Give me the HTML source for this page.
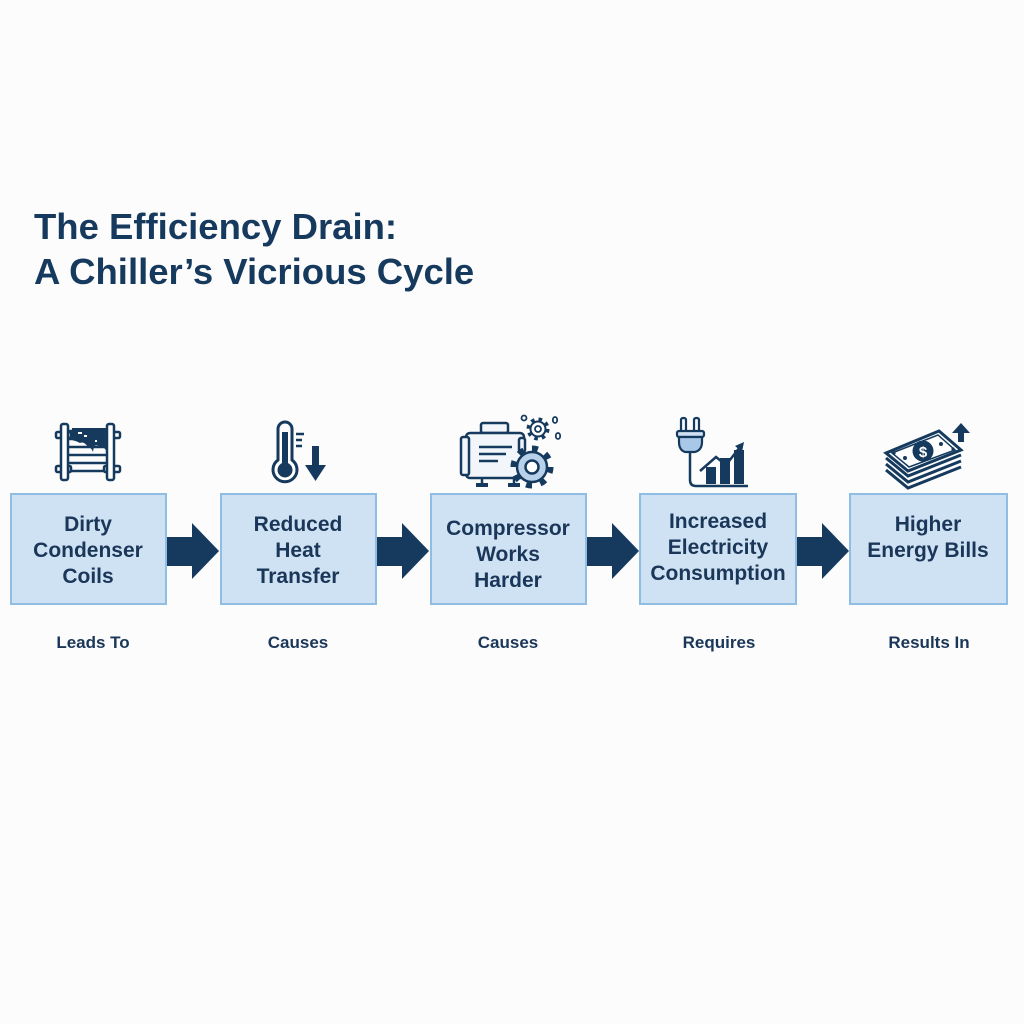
<!DOCTYPE html>
<html>
<head>
<meta charset="utf-8">
<style>
  html,body{margin:0;padding:0;}
  body{width:1024px;height:1024px;background:#fcfcfc;overflow:hidden;position:relative;font-family:"Liberation Sans",Arial,sans-serif;}
  svg{position:absolute;left:0;top:0;}
</style>
</head>
<body>
<svg width="1024" height="1024" viewBox="0 0 1024 1024" xmlns="http://www.w3.org/2000/svg">
  <rect width="1024" height="1024" fill="#fcfcfc"/>
  <!-- Title -->
  <g font-family="Liberation Sans, Arial, sans-serif" font-weight="bold" fill="#163a5e" font-size="36.5">
    <text x="34" y="239">The Efficiency Drain:</text>
    <text x="34" y="284">A Chiller’s Vicrious Cycle</text>
  </g>

  <!-- Boxes -->
  <g fill="#cfe2f3" stroke="#8fbde3" stroke-width="2">
    <rect x="11" y="494" width="155" height="110"/>
    <rect x="221" y="494" width="155" height="110"/>
    <rect x="431" y="494" width="155" height="110"/>
    <rect x="640" y="494" width="156" height="110"/>
    <rect x="850" y="494" width="157" height="110"/>
  </g>

  <!-- Arrows -->
  <g fill="#153a5e">
    <polygon points="167,537 192,537 192,523 219,551 192,579 192,566 167,566"/>
    <polygon points="377,537 402,537 402,523 429,551 402,579 402,566 377,566"/>
    <polygon points="587,537 612,537 612,523 639,551 612,579 612,566 587,566"/>
    <polygon points="797,537 822,537 822,523 849,551 822,579 822,566 797,566"/>
  </g>

  <!-- Box text -->
  <g font-family="Liberation Sans, Arial, sans-serif" font-weight="bold" fill="#1a3658" font-size="21" text-anchor="middle">
    <text x="88" y="531">Dirty</text>
    <text x="88" y="557">Condenser</text>
    <text x="88" y="583">Coils</text>
    <text x="298" y="531">Reduced</text>
    <text x="298" y="557">Heat</text>
    <text x="298" y="583">Transfer</text>
    <text x="508" y="535">Compressor</text>
    <text x="508" y="561">Works</text>
    <text x="508" y="587">Harder</text>
    <text x="718" y="528">Increased</text>
    <text x="718" y="554">Electricity</text>
    <text x="718" y="580">Consumption</text>
    <text x="928" y="531">Higher</text>
    <text x="928" y="557">Energy Bills</text>
  </g>

  <!-- Labels -->
  <g font-family="Liberation Sans, Arial, sans-serif" font-weight="bold" fill="#1a3658" font-size="17" text-anchor="middle">
    <text x="93" y="648">Leads To</text>
    <text x="298" y="648">Causes</text>
    <text x="508" y="648">Causes</text>
    <text x="719" y="648">Requires</text>
    <text x="929" y="648">Results In</text>
  </g>

  <!-- Icon 1: condenser coil -->
  <g stroke="#153a5e" stroke-width="2.5" fill="#fff">
    <line x1="67" y1="431" x2="108" y2="431"/>
    <line x1="67" y1="439" x2="108" y2="439"/>
    <line x1="67" y1="447" x2="108" y2="447"/>
    <line x1="67" y1="455" x2="108" y2="455"/>
    <line x1="67" y1="463" x2="108" y2="463"/>
    <line x1="67" y1="471" x2="108" y2="471"/>
    <rect x="56" y="432" width="15" height="6" rx="1.5"/>
    <rect x="56" y="466" width="15" height="6" rx="1.5"/>
    <rect x="104" y="432" width="16" height="6" rx="1.5"/>
    <rect x="104" y="466" width="16" height="6" rx="1.5"/>
    <rect x="61" y="424" width="7" height="56" rx="2"/>
    <rect x="107" y="424" width="7" height="56" rx="2"/>
  </g>
  <path d="M72,428 H107 V452 Q104,446 100,447 Q97,444 94,446 L93,452 Q91,447 88,447 Q84,441 80,443 Q76,441 72,440 Z" fill="#153a5e"/>
  <g fill="#fff"><rect x="78" y="432" width="4" height="2"/><rect x="84" y="435" width="3" height="2"/><rect x="95" y="440" width="2" height="2"/></g>

  <!-- Icon 2: thermometer -->
  <path d="M278,429 a7,7 0 0 1 14,0 V460 a12,12 0 1 1 -14,0 Z" fill="#fff" stroke="#153a5e" stroke-width="3"/>
  <rect x="282" y="432" width="6" height="34" fill="#153a5e"/>
  <circle cx="285" cy="470" r="7.5" fill="#153a5e"/>
  <g stroke="#153a5e" stroke-width="2.5">
    <line x1="296" y1="434" x2="304" y2="434"/>
    <line x1="296" y1="440" x2="302" y2="440"/>
    <line x1="296" y1="446" x2="302" y2="446"/>
  </g>
  <rect x="312" y="446" width="7" height="20" fill="#153a5e"/>
  <polygon points="305,465 326,465 315.5,481" fill="#153a5e"/>

  <!-- Icon 3: compressor -->
  <g stroke="#153a5e" stroke-width="2.5" fill="#f2f6fb">
    <rect x="481" y="423" width="27" height="10" rx="2"/>
    <rect x="466" y="433" width="58" height="45" rx="4"/>
    <rect x="461" y="437" width="8" height="38" rx="2"/>
    <rect x="519" y="438" width="6" height="14" rx="2"/>
  </g>
  <g stroke="#153a5e" stroke-width="2.5">
    <line x1="479" y1="447" x2="512" y2="447"/>
    <line x1="479" y1="454" x2="506" y2="454"/>
    <line x1="479" y1="461" x2="498" y2="461"/>
    <line x1="482" y1="478" x2="482" y2="484"/>
    <line x1="514" y1="478" x2="514" y2="484"/>
  </g>
  <rect x="476" y="483" width="12" height="4" fill="#153a5e"/>
  <rect x="508" y="483" width="12" height="4" fill="#153a5e"/>
  <!-- big gear -->
  <circle cx="532" cy="467" r="18.5" fill="none" stroke="#153a5e" stroke-width="6" stroke-dasharray="6 8.5"/>
  <circle cx="532" cy="467" r="15" fill="#b7d1ea" stroke="#153a5e" stroke-width="2.5"/>
  <circle cx="532" cy="467" r="6.5" fill="#fff" stroke="#153a5e" stroke-width="2.5"/>
  <!-- small gear -->
  <circle cx="538" cy="429" r="9.5" fill="none" stroke="#153a5e" stroke-width="4" stroke-dasharray="3.5 4"/>
  <circle cx="538" cy="429" r="7.5" fill="#fff" stroke="#153a5e" stroke-width="2"/>
  <circle cx="538" cy="429" r="3" fill="#fff" stroke="#153a5e" stroke-width="1.8"/>
  <g fill="#fff" stroke="#153a5e" stroke-width="1.8">
    <circle cx="524" cy="418" r="2.5"/>
    <ellipse cx="555" cy="420" rx="2.2" ry="3"/>
    <ellipse cx="558" cy="436" rx="2.2" ry="3"/>
  </g>

  <!-- Icon 4: plug + chart -->
  <g fill="#f5f8fc" stroke="#153a5e" stroke-width="2.2">
    <rect x="681" y="418" width="5" height="14" rx="2"/>
    <rect x="694" y="418" width="5" height="14" rx="2"/>
  </g>
  <rect x="677" y="431" width="27" height="6" rx="2" fill="#cfe0f2" stroke="#153a5e" stroke-width="2.2"/>
  <path d="M679,437 H702 V442 Q702,450 695,452 H685 Q679,450 679,442 Z" fill="#a9c8e8" stroke="#153a5e" stroke-width="2.2"/>
  <path d="M690,452 V480 Q690,486 696,486 H748" fill="none" stroke="#153a5e" stroke-width="2.5"/>
  <g fill="#153a5e">
    <rect x="706" y="467" width="10" height="17"/>
    <rect x="720" y="458" width="10" height="26"/>
    <rect x="734" y="450" width="10" height="34"/>
  </g>
  <polyline points="700,471 716,457 726,465 740,447" fill="none" stroke="#153a5e" stroke-width="2.5"/>
  <polygon points="744,442 735,446 742,452" fill="#153a5e"/>

  <!-- Icon 5: money -->
  <g fill="none" stroke="#153a5e" stroke-width="3">
    <polyline points="886,458 908,476 961,455"/>
    <polyline points="886,464 908,482 961,461"/>
    <polyline points="886,470 908,488 961,467"/>
  </g>
  <polygon points="886,453 939,431 961,450 908,471" fill="#fff" stroke="#153a5e" stroke-width="3"/>
  <polygon points="892,453 938,435 955,450 909,467" fill="none" stroke="#153a5e" stroke-width="1.5"/>
  <circle cx="923" cy="451" r="10.5" fill="#153a5e"/>
  <text x="923" y="457" font-family="Liberation Sans, Arial, sans-serif" font-weight="bold" font-size="15" fill="#fff" text-anchor="middle">$</text>
  <g fill="#153a5e">
    <circle cx="905" cy="458" r="2"/>
    <circle cx="941" cy="444" r="2"/>
    <circle cx="894" cy="453" r="1.6"/>
    <circle cx="953" cy="449" r="1.6"/>
  </g>
  <rect x="958" y="431" width="6" height="11" fill="#153a5e"/>
  <polygon points="952,433 970,433 961,423" fill="#153a5e"/>
</svg>
</body>
</html>
